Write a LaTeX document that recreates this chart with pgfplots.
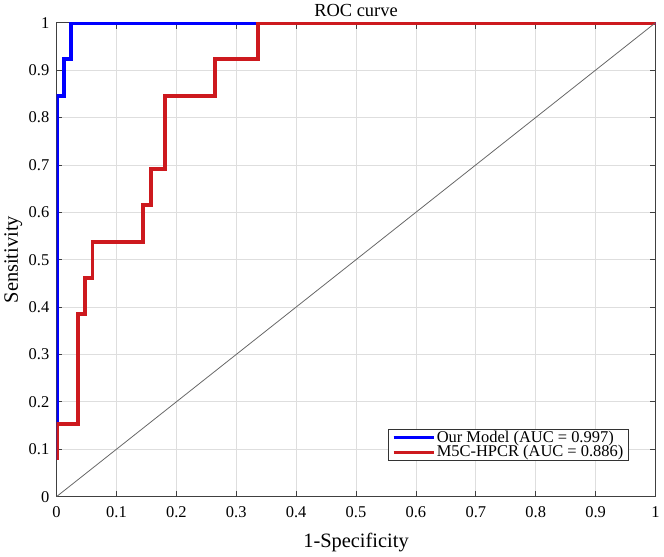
\documentclass[border=0pt]{standalone}
\usepackage{pgfplots}
\pgfplotsset{compat=1.18}
\usepackage{fontspec}
\setmainfont{Liberation Serif}
\definecolor{myred}{RGB}{205,25,30}
\definecolor{myblue}{RGB}{0,0,255}
\begin{document}
\begin{tikzpicture}
\begin{axis}[
  scale only axis,
  width=455pt, height=360pt,
  xmin=0, xmax=1, ymin=0, ymax=1,
  xtick={0,0.1,...,1.0}, ytick={0,0.1,...,1.0},
  xticklabels={0,0.1,0.2,0.3,0.4,0.5,0.6,0.7,0.8,0.9,1},
  yticklabels={0,0.1,0.2,0.3,0.4,0.5,0.6,0.7,0.8,0.9,1},
  tick align=inside,
  major tick length=4.5pt,
  tick style={black!75, line width=0.6pt},
  grid=major,
  major grid style={black!13, line width=0.6pt},
  axis line style={black!75, line width=0.7pt},
  ticklabel style={font=\fontsize{12.5}{14}\selectfont},
  xticklabel style={yshift=-4pt},
  yticklabel style={xshift=-2pt},
  /pgf/number format/assume math mode=true,
  xlabel={1-Specificity}, ylabel={Sensitivity},
  label style={font=\fontsize{15.5}{17}\selectfont},
  xlabel style={yshift=-5pt},
  ylabel style={yshift=-2pt},
  title={ROC curve},
  title style={font=\fontsize{14}{16}\selectfont, yshift=-5pt},
  legend style={at={(0.955,0.075)}, anchor=south east, font=\fontsize{12.5}{13}\selectfont, draw=black!80, line width=0.6pt, inner xsep=3pt, inner ysep=1pt, row sep=0pt,
    nodes={inner sep=0.6pt, text height=8.6pt, text depth=1.2pt},
    /tikz/every even column/.append style={column sep=3pt}},
  legend cell align=left,
  legend image code/.code={\draw[#1, line width=2.4pt] (0cm,0cm) -- (31pt,0cm);},
]
\addplot[myblue, line width=3pt, line join=miter] coordinates {
(0,0.077) (0,0.846) (0.012,0.846) (0.012,0.923) (0.024,0.923) (0.024,1) (1,1)};
\addlegendentry{Our Model (AUC = 0.997)}
\addplot[myred, line width=3pt, line join=miter] coordinates {
(0,0.077) (0,0.154) (0.036,0.154) (0.036,0.385) (0.048,0.385) (0.048,0.462) (0.060,0.462) (0.060,0.538) (0.145,0.538) (0.145,0.615) (0.157,0.615) (0.157,0.692) (0.181,0.692) (0.181,0.846) (0.265,0.846) (0.265,0.923) (0.337,0.923) (0.337,1) (1,1)};
\addlegendentry{M5C-HPCR (AUC = 0.886)}
\addplot[black!60, line width=0.6pt, forget plot] coordinates {(0,0) (1,1)};
\end{axis}
\end{tikzpicture}
\end{document}
